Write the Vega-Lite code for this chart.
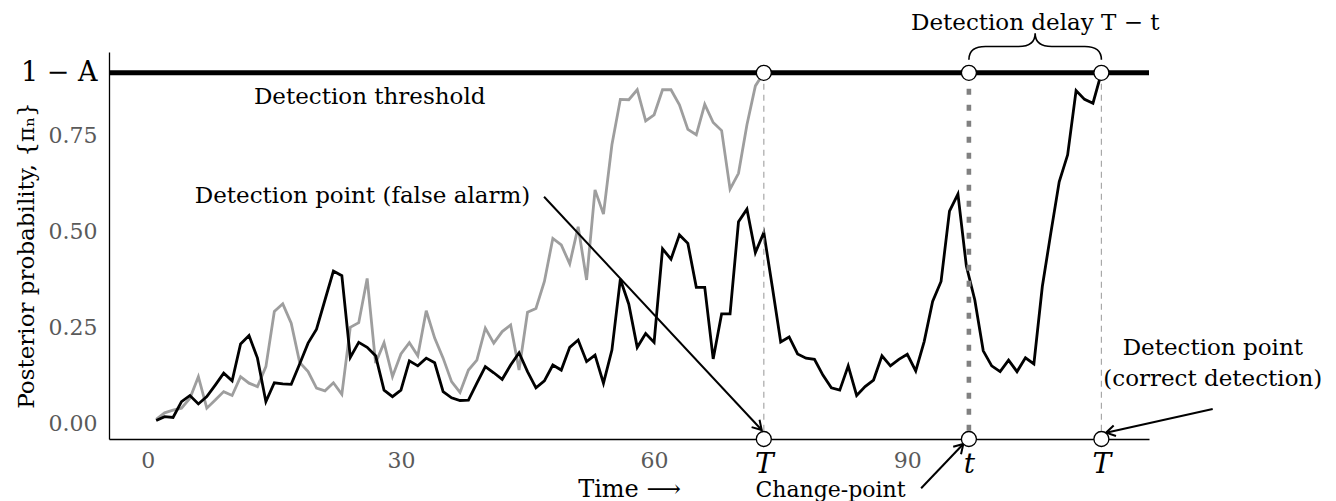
{
  "$schema": "https://vega.github.io/schema/vega-lite/v6.json",
  "width": 1040,
  "height": 387,
  "autosize": {"type": "none"},
  "padding": {"left": 109, "top": 52, "right": 187, "bottom": 62},
  "background": "white",
  "config": {
    "view": {"stroke": null},
    "font": "DejaVu Serif",
    "text": {"font": "DejaVu Serif"}
  },
  "resolve": {"axis": {"x": "independent", "y": "independent"}},
  "datasets": {
    "gray": [
      {"x":1,"y":0.012},{"x":2,"y":0.029},{"x":3,"y":0.036},{"x":4,"y":0.041},{"x":5,"y":0.067},
      {"x":6,"y":0.123},{"x":7,"y":0.041},{"x":8,"y":0.062},{"x":9,"y":0.084},{"x":10,"y":0.074},
      {"x":11,"y":0.123},{"x":12,"y":0.106},{"x":13,"y":0.097},{"x":14,"y":0.149},{"x":15,"y":0.292},
      {"x":16,"y":0.312},{"x":17,"y":0.262},{"x":18,"y":0.160},{"x":19,"y":0.136},{"x":20,"y":0.093},
      {"x":21,"y":0.086},{"x":22,"y":0.107},{"x":23,"y":0.077},{"x":24,"y":0.251},{"x":25,"y":0.263},
      {"x":26,"y":0.378},{"x":27,"y":0.158},{"x":28,"y":0.211},{"x":29,"y":0.123},{"x":30,"y":0.182},
      {"x":31,"y":0.211},{"x":32,"y":0.177},{"x":33,"y":0.294},{"x":34,"y":0.223},{"x":35,"y":0.171},
      {"x":36,"y":0.110},{"x":37,"y":0.082},{"x":38,"y":0.140},{"x":39,"y":0.166},{"x":40,"y":0.249},
      {"x":41,"y":0.210},{"x":42,"y":0.240},{"x":43,"y":0.257},{"x":44,"y":0.140},{"x":45,"y":0.290},
      {"x":46,"y":0.300},{"x":47,"y":0.370},{"x":48,"y":0.482},{"x":49,"y":0.465},{"x":50,"y":0.416},
      {"x":51,"y":0.512},{"x":52,"y":0.374},{"x":53,"y":0.608},{"x":54,"y":0.545},{"x":55,"y":0.725},
      {"x":56,"y":0.843},{"x":57,"y":0.842},{"x":58,"y":0.868},{"x":59,"y":0.787},{"x":60,"y":0.803},
      {"x":61,"y":0.868},{"x":62,"y":0.868},{"x":63,"y":0.829},{"x":64,"y":0.765},{"x":65,"y":0.751},
      {"x":66,"y":0.830},{"x":67,"y":0.783},{"x":68,"y":0.762},{"x":69,"y":0.610},{"x":70,"y":0.651},
      {"x":71,"y":0.777},{"x":72,"y":0.878},{"x":73,"y":0.912}
    ],
    "black": [
      {"x":1,"y":0.009},{"x":2,"y":0.019},{"x":3,"y":0.017},{"x":4,"y":0.058},{"x":5,"y":0.074},
      {"x":6,"y":0.052},{"x":7,"y":0.071},{"x":8,"y":0.101},{"x":9,"y":0.132},{"x":10,"y":0.112},
      {"x":11,"y":0.208},{"x":12,"y":0.230},{"x":13,"y":0.171},{"x":14,"y":0.058},{"x":15,"y":0.107},
      {"x":16,"y":0.104},{"x":17,"y":0.103},{"x":18,"y":0.156},{"x":19,"y":0.210},{"x":20,"y":0.246},
      {"x":21,"y":0.322},{"x":22,"y":0.397},{"x":23,"y":0.385},{"x":24,"y":0.173},{"x":25,"y":0.212},
      {"x":26,"y":0.199},{"x":27,"y":0.177},{"x":28,"y":0.088},{"x":29,"y":0.071},{"x":30,"y":0.088},
      {"x":31,"y":0.164},{"x":32,"y":0.151},{"x":33,"y":0.171},{"x":34,"y":0.159},{"x":35,"y":0.084},
      {"x":36,"y":0.068},{"x":37,"y":0.061},{"x":38,"y":0.062},{"x":39,"y":0.106},{"x":40,"y":0.149},
      {"x":41,"y":0.133},{"x":42,"y":0.116},{"x":43,"y":0.153},{"x":44,"y":0.185},{"x":45,"y":0.136},
      {"x":46,"y":0.094},{"x":47,"y":0.112},{"x":48,"y":0.153},{"x":49,"y":0.140},{"x":50,"y":0.199},
      {"x":51,"y":0.218},{"x":52,"y":0.162},{"x":53,"y":0.179},{"x":54,"y":0.106},{"x":55,"y":0.192},
      {"x":56,"y":0.376},{"x":57,"y":0.311},{"x":58,"y":0.199},{"x":59,"y":0.235},{"x":60,"y":0.212},
      {"x":61,"y":0.455},{"x":62,"y":0.428},{"x":63,"y":0.491},{"x":64,"y":0.469},{"x":65,"y":0.355},
      {"x":66,"y":0.355},{"x":67,"y":0.169},{"x":68,"y":0.286},{"x":69,"y":0.286},{"x":70,"y":0.525},
      {"x":71,"y":0.558},{"x":72,"y":0.445},{"x":73,"y":0.497},{"x":74,"y":0.357},{"x":75,"y":0.213},
      {"x":76,"y":0.226},{"x":77,"y":0.182},{"x":78,"y":0.171},{"x":79,"y":0.168},{"x":80,"y":0.127},
      {"x":81,"y":0.094},{"x":82,"y":0.088},{"x":83,"y":0.151},{"x":84,"y":0.074},{"x":85,"y":0.097},
      {"x":86,"y":0.114},{"x":87,"y":0.177},{"x":88,"y":0.151},{"x":89,"y":0.168},{"x":90,"y":0.181},
      {"x":91,"y":0.138},{"x":92,"y":0.214},{"x":93,"y":0.318},{"x":94,"y":0.370},{"x":95,"y":0.553},
      {"x":96,"y":0.597},{"x":97,"y":0.410},{"x":98,"y":0.322},{"x":99,"y":0.190},{"x":100,"y":0.151},
      {"x":101,"y":0.136},{"x":102,"y":0.166},{"x":103,"y":0.136},{"x":104,"y":0.172},{"x":105,"y":0.156},
      {"x":106,"y":0.357},{"x":107,"y":0.495},{"x":108,"y":0.629},{"x":109,"y":0.699},{"x":110,"y":0.866},
      {"x":111,"y":0.843},{"x":112,"y":0.833},{"x":113,"y":0.912}
    ],
    "vlines": [
      {"x":73,"y":0.912,"y2":-0.039,"kind":"detection"},
      {"x":113,"y":0.912,"y2":-0.039,"kind":"detection"},
      {"x":97.3,"y":0.912,"y2":-0.039,"kind":"change"}
    ],
    "threshold": [{"y":0.912}],
    "circles": [
      {"x":73,"y":0.912},{"x":97.3,"y":0.912},{"x":113,"y":0.912},
      {"x":73,"y":-0.039},{"x":97.3,"y":-0.039},{"x":113,"y":-0.039}
    ],
    "arrows": [
      {"id":"false","x":46.96,"y":0.590,"x2":72.75,"y2":-0.0156},
      {"id":"change","x":91.64,"y":-0.167,"x2":96.64,"y2":-0.052},
      {"id":"correct","x":126.19,"y":0.039,"x2":113.55,"y2":-0.0226}
    ],
    "brace": [{"x":105.15,"y":0.9803}],
    "labels": [
      {"x":26.3,"y":0.849,"text":"Detection threshold"},
      {"x":25.45,"y":0.593,"text":"Detection point (false alarm)"},
      {"x":126.2,"y":0.197,"text":"Detection point"},
      {"x":126.2,"y":0.117,"text":"(correct detection)"},
      {"x":105.16,"y":1.041,"text":"Detection delay T − t"}
    ],
    "changelabel": [
      {"x":80.9,"y":-0.171,"text":"Change-point"}
    ]
  },
  "layer": [
    {
      "data": {"name": "gray"},
      "mark": {"type": "line", "color": "#9e9e9e", "strokeWidth": 2.8},
      "encoding": {
        "x": {
          "field": "x", "type": "quantitative",
          "scale": {"domain": [-4.59, 118.64], "nice": false, "zero": false},
          "axis": {
            "title": "Time ⟶",
            "titleFont": "DejaVu Serif", "titleFontSize": 24, "titleFontWeight": "normal", "titleColor": "black",
            "titleBaseline": "top", "titleY": 38,
            "values": [0, 30, 60, 90, 73, 97.3, 113],
            "labelExpr": "datum.value == 73 || datum.value == 113 ? 'T' : (datum.value == 97.3 ? 't' : datum.label)",
            "labelFont": "DejaVu Serif",
            "labelColor": {"condition": {"test": "datum.value == 73 || datum.value == 97.3 || datum.value == 113", "value": "black"}, "value": "#5a5a5a"},
            "labelFontSize": {"condition": {"test": "datum.value == 73 || datum.value == 97.3 || datum.value == 113", "value": 28}, "value": 22},
            "labelFontStyle": {"condition": {"test": "datum.value == 73 || datum.value == 97.3 || datum.value == 113", "value": "italic"}, "value": "normal"},
            "labelPadding": 11, "labelFlush": false, "labelOverlap": false,
            "ticks": false, "grid": false, "domainColor": "black", "domainWidth": 1.3
          }
        },
        "y": {
          "field": "y", "type": "quantitative",
          "scale": {"domain": [-0.039, 0.966], "nice": false, "zero": false},
          "axis": {
            "title": "Posterior probability, {πₙ}",
            "titleFont": "DejaVu Serif", "titleFontSize": 23, "titleFontWeight": "normal", "titleColor": "black",
            "titleAngle": 270, "titleAlign": "center", "titleBaseline": "alphabetic", "titleX": -76, "titleY": 203,
            "values": [0, 0.25, 0.5, 0.75, 0.912],
            "labelExpr": "datum.value == 0.912 ? '1 − A' : format(datum.value, '.2f')",
            "labelFont": "DejaVu Serif",
            "labelColor": {"condition": {"test": "datum.value == 0.912", "value": "black"}, "value": "#5a5a5a"},
            "labelFontSize": {"condition": {"test": "datum.value == 0.912", "value": 27}, "value": 22},
            "labelPadding": 12, "labelFlush": false, "labelOverlap": false,
            "ticks": false, "grid": false, "domainColor": "black", "domainWidth": 1.3
          }
        }
      }
    },
    {
      "data": {"name": "black"},
      "mark": {"type": "line", "color": "black", "strokeWidth": 2.8},
      "encoding": {
        "x": {"field": "x", "type": "quantitative", "axis": null},
        "y": {"field": "y", "type": "quantitative", "axis": null}
      }
    },
    {
      "data": {"name": "vlines"},
      "transform": [{"filter": "datum.kind == 'detection'"}],
      "mark": {"type": "rule", "color": "#a8a8a8", "strokeWidth": 1.2, "strokeDash": [6, 5]},
      "encoding": {
        "x": {"field": "x", "type": "quantitative", "axis": null},
        "y": {"field": "y", "type": "quantitative", "axis": null},
        "y2": {"field": "y2"}
      }
    },
    {
      "data": {"name": "vlines"},
      "transform": [{"filter": "datum.kind == 'change'"}],
      "mark": {"type": "rule", "color": "#808080", "strokeWidth": 4.6, "strokeDash": [6, 10]},
      "encoding": {
        "x": {"field": "x", "type": "quantitative", "axis": null},
        "y": {"field": "y", "type": "quantitative", "axis": null},
        "y2": {"field": "y2"}
      }
    },
    {
      "data": {"name": "threshold"},
      "mark": {"type": "rule", "color": "black", "strokeWidth": 5},
      "encoding": {
        "y": {"field": "y", "type": "quantitative", "axis": null}
      }
    },
    {
      "data": {"name": "arrows"},
      "mark": {"type": "rule", "color": "black", "strokeWidth": 2},
      "encoding": {
        "x": {"field": "x", "type": "quantitative", "axis": null},
        "y": {"field": "y", "type": "quantitative", "axis": null},
        "x2": {"field": "x2"},
        "y2": {"field": "y2"}
      }
    },
    {
      "data": {"name": "arrows"},
      "transform": [{"filter": "datum.id == 'false'"}],
      "mark": {"type": "point", "shape": "M-1,-0.6L0,0L-1,0.6", "filled": false, "stroke": "black", "strokeWidth": 2, "size": 324, "angle": 47, "opacity": 1},
      "encoding": {
        "x": {"field": "x2", "type": "quantitative", "axis": null},
        "y": {"field": "y2", "type": "quantitative", "axis": null}
      }
    },
    {
      "data": {"name": "arrows"},
      "transform": [{"filter": "datum.id == 'change'"}],
      "mark": {"type": "point", "shape": "M-1,-0.6L0,0L-1,0.6", "filled": false, "stroke": "black", "strokeWidth": 2, "size": 324, "angle": 313.7, "opacity": 1},
      "encoding": {
        "x": {"field": "x2", "type": "quantitative", "axis": null},
        "y": {"field": "y2", "type": "quantitative", "axis": null}
      }
    },
    {
      "data": {"name": "arrows"},
      "transform": [{"filter": "datum.id == 'correct'"}],
      "mark": {"type": "point", "shape": "M-1,-0.6L0,0L-1,0.6", "filled": false, "stroke": "black", "strokeWidth": 2, "size": 324, "angle": 167.5, "opacity": 1},
      "encoding": {
        "x": {"field": "x2", "type": "quantitative", "axis": null},
        "y": {"field": "y2", "type": "quantitative", "axis": null}
      }
    },
    {
      "data": {"name": "brace"},
      "mark": {"type": "point", "shape": "M-1,0.2C-1,0.05 -0.9,0 -0.75,0L-0.25,0C-0.1,0 0,-0.05 0,-0.2C0,-0.05 0.1,0 0.25,0L0.75,0C0.9,0 1,0.05 1,0.2", "filled": false, "stroke": "black", "strokeWidth": 1.6, "size": 17556, "opacity": 1},
      "encoding": {
        "x": {"field": "x", "type": "quantitative", "axis": null},
        "y": {"field": "y", "type": "quantitative", "axis": null}
      }
    },
    {
      "data": {"name": "circles"},
      "mark": {"type": "point", "shape": "circle", "filled": true, "fill": "white", "stroke": "black", "strokeWidth": 1.3, "size": 225, "opacity": 1},
      "encoding": {
        "x": {"field": "x", "type": "quantitative", "axis": null},
        "y": {"field": "y", "type": "quantitative", "axis": null}
      }
    },
    {
      "data": {"name": "labels"},
      "mark": {"type": "text", "font": "DejaVu Serif", "fontSize": 23, "color": "black", "align": "center", "baseline": "middle"},
      "encoding": {
        "x": {"field": "x", "type": "quantitative", "axis": null},
        "y": {"field": "y", "type": "quantitative", "axis": null},
        "text": {"field": "text"}
      }
    },
    {
      "data": {"name": "changelabel"},
      "mark": {"type": "text", "font": "DejaVu Serif", "fontSize": 22, "color": "black", "align": "center", "baseline": "middle"},
      "encoding": {
        "x": {"field": "x", "type": "quantitative", "axis": null},
        "y": {"field": "y", "type": "quantitative", "axis": null},
        "text": {"field": "text"}
      }
    }
  ]
}
